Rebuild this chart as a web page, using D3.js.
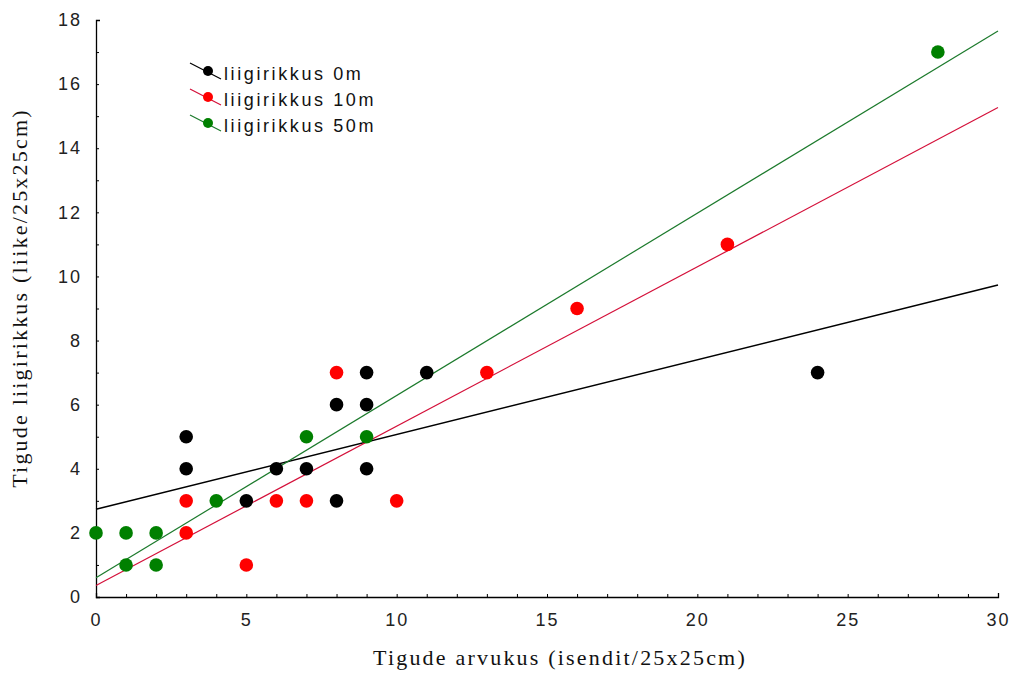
<!DOCTYPE html>
<html>
<head>
<meta charset="utf-8">
<script src="https://cdn.jsdelivr.net/npm/d3@7"></script>
<style>
  body { margin: 0; background: #fff; }
  svg { display: block; }
</style>
</head>
<body>
<div id="chart"></div>
<script>
// series (x = isendid, y = liike)
const series0X = [3, 3, 5, 6, 7, 8, 8, 9, 9, 9, 11, 24];
const series0Y = [5, 4, 3, 4, 4, 6, 3, 7, 6, 4, 7, 7];
const series10X = [3, 3, 5, 6, 7, 8, 10, 13, 16, 21];
const series10Y = [3, 2, 1, 3, 3, 7, 3, 7, 9, 11];
const series50X = [0, 1, 2, 1, 2, 4, 7, 9, 28];
const series50Y = [2, 2, 2, 1, 1, 3, 5, 5, 17];

// fitted lines: value at x = 0 and at x = 30
const fitX = [0, 30];
const fit0 = [2.74, 9.73];
const fit10 = [0.36, 15.27];
const fit50 = [0.6, 17.66];

const legendLabels = ['liigirikkus 0m', 'liigirikkus 10m', 'liigirikkus 50m'];
const seriesColors = ['#000000', '#ff0000', '#008000'];
const lineColors = ['#000000', '#d4103a', '#1c7a2c'];

const xTicks = d3.range(0, 31, 1);
const yTicks = d3.range(0, 19, 1);

const width = 1014, height = 673;
const margin = { top: 20, right: 16, bottom: 76, left: 96 };

const svg = d3.select('#chart')
  .append('svg')
  .attr('width', width)
  .attr('height', height);

const x = d3.scaleLinear().domain([0, 30]).range([margin.left, width - margin.right]);
const y = d3.scaleLinear().domain([0, 18]).range([height - margin.bottom, margin.top]);

// axes
const xAxis = d3.axisBottom(x)
  .tickValues(xTicks)
  .tickSizeInner(-3)
  .tickSizeOuter(-4)
  .tickPadding(16)
  .tickFormat(d => d % 5 === 0 ? d : '');

const yAxis = d3.axisLeft(y)
  .tickValues(yTicks)
  .tickSizeInner(-3)
  .tickSizeOuter(-4)
  .tickPadding(14)
  .tickFormat(d => d % 2 === 0 ? d : '');

const gx = svg.append('g')
  .attr('transform', `translate(0,${y(0)})`)
  .call(xAxis);
const gy = svg.append('g')
  .attr('transform', `translate(${x(0)},0)`)
  .call(yAxis);

[gx, gy].forEach(g => {
  g.select('.domain').attr('stroke', '#000').attr('stroke-width', 1.3);
  g.selectAll('.tick line').attr('stroke', '#000');
  g.selectAll('.tick text')
    .attr('fill', '#222')
    .style('font-family', '"Liberation Sans", Arial, sans-serif')
    .style('font-size', '18px')
    .style('letter-spacing', '2px');
});

// axis titles
svg.append('text')
  .attr('x', 560)
  .attr('y', 665)
  .attr('text-anchor', 'middle')
  .style('font-family', '"Liberation Serif", "Times New Roman", serif')
  .style('font-size', '22px')
  .style('letter-spacing', '2.2px')
  .attr('fill', '#111')
  .text('Tigude arvukus (isendit/25x25cm)');

svg.append('text')
  .attr('transform', 'translate(27,298) rotate(-90)')
  .attr('text-anchor', 'middle')
  .style('font-family', '"Liberation Serif", "Times New Roman", serif')
  .style('font-size', '22px')
  .style('letter-spacing', '2.2px')
  .attr('fill', '#111')
  .text('Tigude liigirikkus (liike/25x25cm)');

// fit lines
const fits = [fit0, fit10, fit50];
const line = d3.line().x(d => x(d[0])).y(d => y(d[1]));
fits.forEach((f, i) => {
  svg.append('path')
    .datum(fitX.map((v, j) => [v, f[j]]))
    .attr('d', line)
    .attr('fill', 'none')
    .attr('stroke', lineColors[i])
    .attr('stroke-width', i === 0 ? 1.5 : 1.2);
});

// points
const allSeries = [
  d3.zip(series0X, series0Y),
  d3.zip(series10X, series10Y),
  d3.zip(series50X, series50Y)
];
allSeries.forEach((pts, i) => {
  svg.append('g')
    .selectAll('circle')
    .data(pts)
    .join('circle')
    .attr('cx', d => x(d[0]))
    .attr('cy', d => y(d[1]))
    .attr('r', 6.8)
    .attr('fill', seriesColors[i]);
});

// legend (short slanted line with a marker, like the original)
const legend = svg.append('g').attr('transform', 'translate(190,63)');
legendLabels.forEach((label, i) => {
  const row = legend.append('g').attr('transform', `translate(0,${i * 26})`);
  row.append('line')
    .attr('x1', 0).attr('y1', 0)
    .attr('x2', 31).attr('y2', 16)
    .attr('stroke', lineColors[i])
    .attr('stroke-width', 1.2);
  row.append('circle')
    .attr('cx', 18).attr('cy', 8)
    .attr('r', 5)
    .attr('fill', seriesColors[i]);
  row.append('text')
    .attr('x', 34)
    .attr('y', 17)
    .style('font-family', '"Liberation Sans", Arial, sans-serif')
    .style('font-size', '18px')
    .style('letter-spacing', '2.6px')
    .attr('fill', '#111')
    .text(label);
});
</script>
</body>
</html>
